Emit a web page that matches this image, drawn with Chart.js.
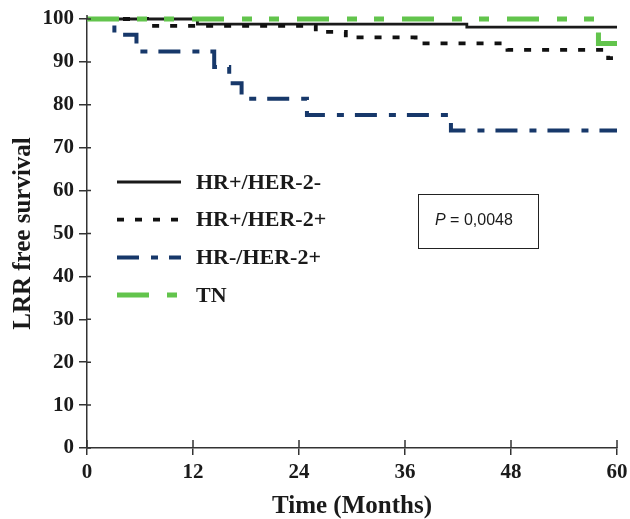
<!DOCTYPE html>
<html>
<head>
<meta charset="utf-8">
<script src="https://cdn.jsdelivr.net/npm/chart.js@4.4.1/dist/chart.umd.min.js"></script>
<style>
  html, body { margin: 0; padding: 0; background: #fff; }
  #wrap { width: 630px; height: 519px; }
</style>
</head>
<body>
<div id="wrap"><canvas id="km" width="630" height="519"></canvas></div>
<script>
// Kaplan-Meier curves (months, % free of LRR)
const seriesLabels = ['HR+/HER-2-', 'HR+/HER-2+', 'HR-/HER-2+', 'TN'];

const hrPosHer2NegTime = [0, 12.5, 43.0, 60];
const hrPosHer2NegSurv = [100, 98.8, 98.1, 98.1];

const hrPosHer2PosTime = [0, 6.8, 25.9, 29.3, 37.2, 47.6, 59.0, 60];
const hrPosHer2PosSurv = [100, 98.4, 97.0, 95.7, 94.3, 92.8, 90.9, 90.9];

const hrNegHer2PosTime = [0, 3.1, 5.6, 14.4, 16.1, 17.5, 24.9, 41.2, 60];
const hrNegHer2PosSurv = [100, 96.3, 92.4, 88.8, 85.0, 81.4, 77.6, 74.0, 74.0];

const tnTime = [0, 57.9, 60];
const tnSurv = [100, 94.3, 94.3];

const xMin = 0, xMax = 60, xStep = 12;
const yMin = 0, yMax = 100, yStep = 10;
const pValueLabel = '0,0048';

const serif = "'Liberation Serif', 'Times New Roman', serif";
const sans = "'Liberation Sans', Arial, sans-serif";

function pts(t, s) {
  return t.map((v, i) => ({ x: v, y: s[i] }));
}

const common = { pointRadius: 0, stepped: true, fill: false, clip: false, borderCapStyle: 'butt' };

const datasets = [
  Object.assign({ label: seriesLabels[0], data: pts(hrPosHer2NegTime, hrPosHer2NegSurv),
    borderColor: '#1a1a1a', borderWidth: 2.8, borderDash: [], order: 3 }, common),
  Object.assign({ label: seriesLabels[1], data: pts(hrPosHer2PosTime, hrPosHer2PosSurv),
    borderColor: '#111111', borderWidth: 3.8, borderDash: [7, 11], order: 2 }, common),
  Object.assign({ label: seriesLabels[2], data: pts(hrNegHer2PosTime, hrNegHer2PosSurv),
    borderColor: '#17386a', borderWidth: 4, borderDash: [22, 12, 7, 11], order: 1 }, common),
  Object.assign({ label: seriesLabels[3], data: pts(tnTime, tnSurv),
    borderColor: '#62c44c', borderWidth: 5, borderDash: [32, 18, 10, 17, 10, 18], order: 0 }, common)
];

// legend, p-value box, inner tick halves
const extras = {
  id: 'extras',
  afterDraw(chart) {
    const ctx = chart.ctx;
    const xs = chart.scales.x, ys = chart.scales.y;
    ctx.save();

    // inner parts of the ticks + axis stub above 100
    ctx.strokeStyle = '#333';
    ctx.lineWidth = 1.5;
    ctx.beginPath();
    for (let v = yMin; v <= yMax; v += yStep) {
      const py = ys.getPixelForValue(v);
      ctx.moveTo(xs.left, py);
      ctx.lineTo(xs.left + 4, py);
    }
    for (let v = xMin; v <= xMax; v += xStep) {
      const px = xs.getPixelForValue(v);
      ctx.moveTo(px, ys.bottom);
      ctx.lineTo(px, ys.bottom - 8);
    }
    ctx.moveTo(xs.left, ys.top);
    ctx.lineTo(xs.left, ys.top - 4);
    ctx.stroke();

    // legend
    const lx = 117, lw = 64, ly0 = 182, lstep = 37.7;
    ctx.font = 'bold 22px ' + serif;
    ctx.textBaseline = 'middle';
    ctx.textAlign = 'left';
    chart.data.datasets.forEach((ds, i) => {
      const y = ly0 + i * lstep;
      ctx.strokeStyle = ds.borderColor;
      ctx.lineWidth = ds.borderWidth;
      ctx.lineCap = 'butt';
      ctx.setLineDash(ds.borderDash);
      ctx.beginPath();
      ctx.moveTo(lx, y);
      ctx.lineTo(lx + lw, y);
      ctx.stroke();
      ctx.setLineDash([]);
      ctx.fillStyle = '#1a1a1a';
      ctx.fillText(ds.label, 196, y + 1);
    });

    // p-value box
    ctx.strokeStyle = '#222';
    ctx.lineWidth = 1;
    ctx.strokeRect(418.5, 194.5, 120, 54);
    ctx.fillStyle = '#1a1a1a';
    ctx.font = 'italic 16px ' + sans;
    ctx.fillText('P', 435, 221);
    const pw = ctx.measureText('P').width;
    ctx.font = '16px ' + sans;
    ctx.fillText(' = ' + pValueLabel, 435 + pw, 221);

    ctx.restore();
  }
};

new Chart(document.getElementById('km'), {
  type: 'line',
  data: { datasets: datasets },
  options: {
    responsive: false,
    animation: false,
    layout: { padding: { top: 19, right: 13, bottom: 0, left: 0 } },
    plugins: { legend: { display: false }, tooltip: { enabled: false } },
    scales: {
      x: {
        type: 'linear',
        min: xMin, max: xMax,
        afterFit(s) { s.height = 71; s.paddingLeft = 0; s.paddingRight = 0; },
        border: { color: '#333', width: 1.5 },
        grid: { drawOnChartArea: false, drawTicks: true, tickLength: 7, color: '#333', lineWidth: 1.5 },
        ticks: { stepSize: xStep, padding: 5, color: '#1a1a1a', font: { family: serif, size: 21, weight: 'bold' } },
        title: { display: true, text: 'Time (Months)', color: '#1a1a1a',
          font: { family: serif, size: 25, weight: 'bold', lineHeight: 1.0 }, padding: { top: 0, bottom: 0 } }
      },
      y: {
        min: yMin, max: yMax,
        afterFit(s) { s.width = 87; },
        border: { color: '#333', width: 1.5 },
        grid: { drawOnChartArea: false, drawTicks: true, tickLength: 8, color: '#333', lineWidth: 1.5 },
        ticks: { stepSize: yStep, padding: 5, color: '#1a1a1a', font: { family: serif, size: 21, weight: 'bold' } },
        title: { display: true, text: 'LRR free survival', color: '#1a1a1a',
          font: { family: serif, size: 25, weight: 'bold', lineHeight: 1.0 }, padding: { top: 11, bottom: 0 } }
      }
    }
  },
  plugins: [extras]
});
</script>
</body>
</html>
